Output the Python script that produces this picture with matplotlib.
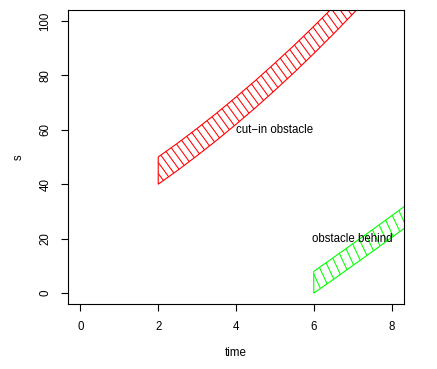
import matplotlib
matplotlib.use('Agg')
import matplotlib.pyplot as plt
import numpy as np
from matplotlib.collections import LineCollection
from matplotlib.transforms import IdentityTransform

plt.rcParams['font.family'] = ['Liberation Sans', 'DejaVu Sans']

# cut-in obstacle band (time, lower s, upper s)
t_red = [2.0, 2.5, 3.0, 3.5, 4.0, 4.5, 5.0, 5.5, 6.0, 6.5, 7.0, 7.5]
red_low = [40, 45.1, 50.5, 56.1, 62, 68.1, 74.5, 81.1, 88, 95.1, 102.5, 110.1]
red_up = [50, 55.1, 60.5, 66.1, 72, 78.1, 84.5, 91.1, 98, 105.1, 112.5, 120.1]

# obstacle behind band
t_green = [6.0, 6.5, 7.0, 7.5, 8.0, 8.5]
green_low = [0, 5, 10.1, 15.2, 20.4, 25.6]
green_up = [8, 13, 18.1, 23.2, 28.4, 33.6]

labels = ['cut\u2212in obstacle', 'obstacle behind']
label_pos = [(5, 60), (7, 20)]

xticks = [0, 2, 4, 6, 8]
yticks = [0, 20, 40, 60, 80, 100]

fig = plt.figure(figsize=(4.37, 3.69), dpi=100)
ax = fig.add_axes([68/437, 1 - 304/369, 336/437, 294/369])
ax.set_xlim(-0.32, 8.32)
ax.set_ylim(-4, 104)

def band(t, lo, up, col, angle, gap):
    xs = list(t) + list(t[::-1])
    ys = list(lo) + list(up[::-1])
    poly = ax.fill(xs, ys, facecolor='none', edgecolor=col, linewidth=0.8)[0]
    # shading lines, done in pixel space so the angle is what you see
    pts = ax.transData.transform(np.column_stack([xs, ys]))
    a = np.radians(angle)
    d = np.array([np.cos(a), -np.sin(a)])
    n = np.array([np.sin(a), np.cos(a)])
    proj = pts @ n
    segs = []
    for c in np.arange(proj.min(), proj.max(), gap):
        segs.append([c * n - 2000 * d, c * n + 2000 * d])
    lc = LineCollection(segs, colors=col, linewidths=0.75, transform=IdentityTransform())
    ax.add_collection(lc)
    lc.set_clip_path(poly)

band(t_red, red_low, red_up, '#ff0000', 54, 6.4)
band(t_green, green_low, green_up, '#00ff00', 65, 8.0)

for lab, (x, y) in zip(labels, label_pos):
    ax.text(x, y, lab, ha='center', va='center', fontsize=8.3, zorder=5)

ax.set_xticks(xticks)
ax.set_yticks(yticks)
ax.set_yticklabels([str(v) for v in yticks], rotation=90, va='center')
ax.tick_params(length=5, width=0.8, labelsize=8.3, pad=7)
for sp in ax.spines.values():
    sp.set_linewidth(0.8)

ax.set_xlabel('time', fontsize=8.3, va='center')
ax.set_ylabel('s', fontsize=8.3, va='center')
ax.xaxis.set_label_coords(0.5, -49/294)
ax.yaxis.set_label_coords(-49/336, 0.5)

fig.savefig('out.png', dpi=100)
